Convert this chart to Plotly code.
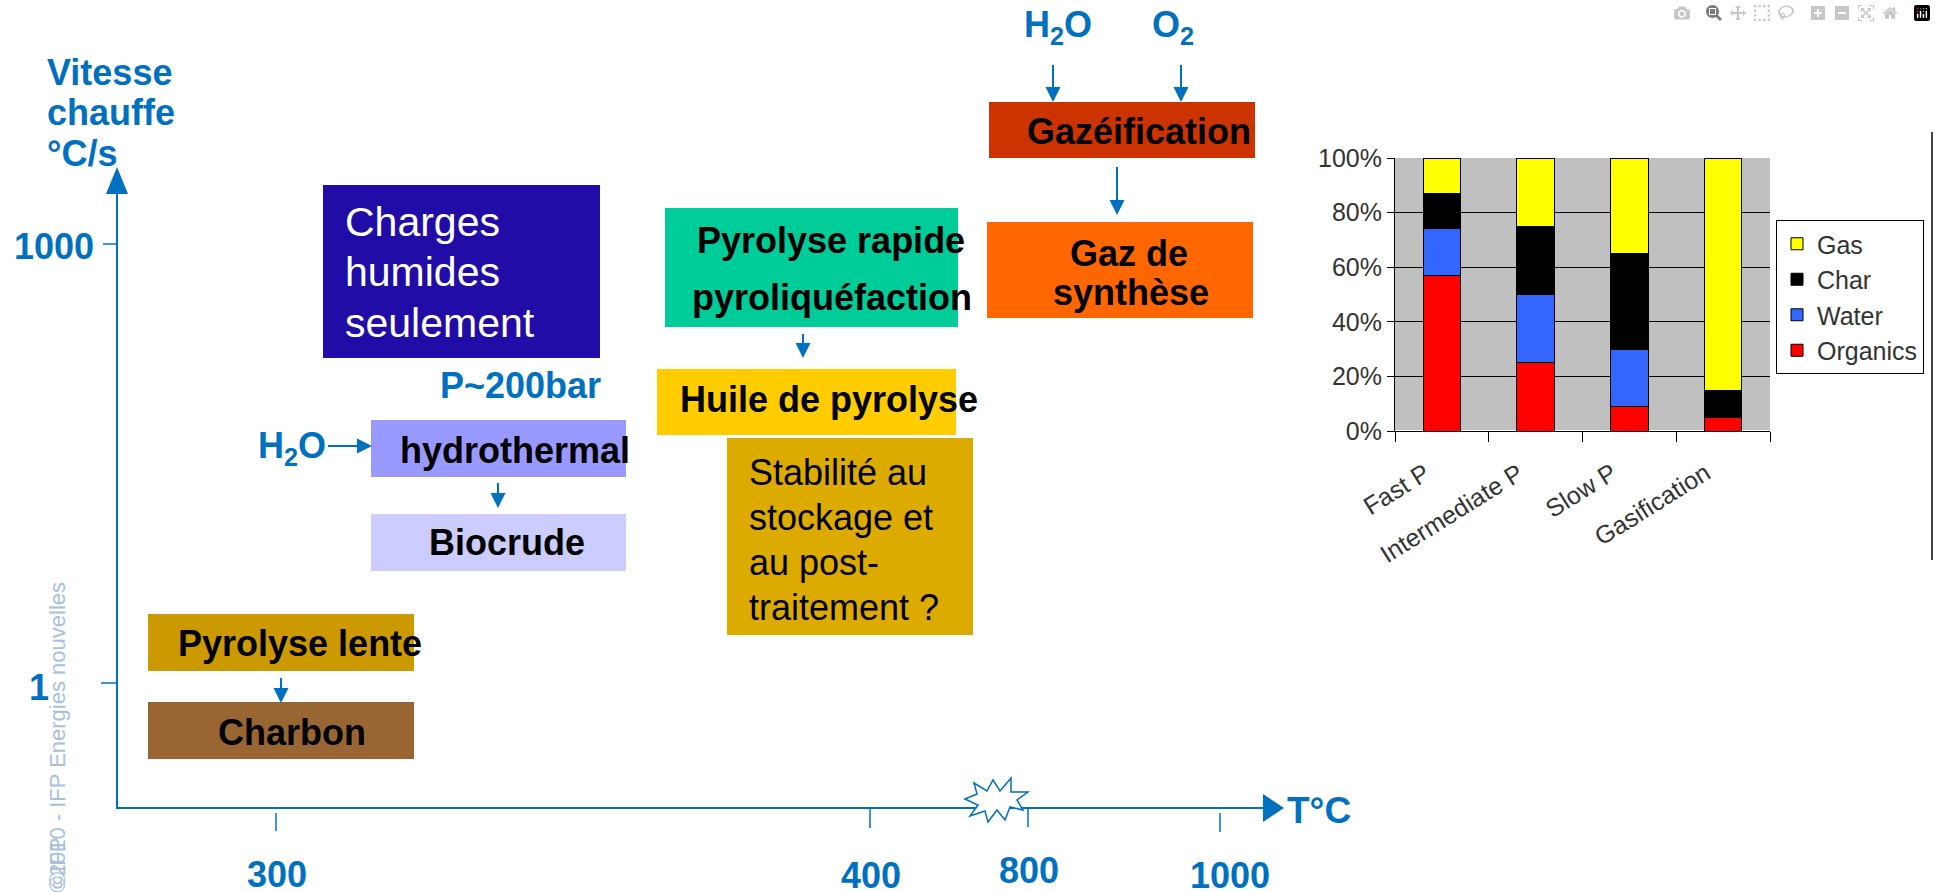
import plotly.graph_objects as go

W, H = 1936, 892
BLUE = "#0070C0"
FONT = "Liberation Sans, Arial, sans-serif"

# histogramme : répartition des produits (%)
procedes = ["Fast P", "Intermediate P", "Slow P", "Gasification"]
organics = [57, 25, 9, 5]
water = [17, 25, 21, 0]
char = [13, 25, 35, 10]
gas = [13, 25, 35, 85]

# axes du schéma
x_tick_labels = ["300", "400", "800", "1000"]
y_tick_labels = ["1", "1000"]


def px(x):
    return x / W


def py(y):
    return 1 - y / H


fig = go.Figure()

# — Histogramme empilé —
for name, vals, col in [("Organics", organics, "#FF0000"), ("Water", water, "#3366FF"),
                        ("Char", char, "#000000"), ("Gas", gas, "#FFFF00")]:
    fig.add_trace(go.Bar(
        x=procedes, y=vals, name=name, width=0.4,
        marker=dict(color=col, line=dict(color="black", width=1)),
    ))

# — Helpers schéma —
shapes = []
annots = []


def box(x0, y0, x1, y1, color):
    shapes.append(dict(type="rect", xref="paper", yref="paper",
                       x0=px(x0), x1=px(x1), y0=py(y1), y1=py(y0),
                       fillcolor=color, line=dict(width=0), layer="below"))


def seg(x0, y0, x1, y1, color=BLUE, width=2):
    shapes.append(dict(type="line", xref="paper", yref="paper",
                       x0=px(x0), y0=py(y0), x1=px(x1), y1=py(y1),
                       line=dict(color=color, width=width)))


def poly(pts, fill=BLUE, line_color=None, lw=0):
    path = "M " + " L ".join(f"{px(a):.5f},{py(b):.5f}" for a, b in pts) + " Z"
    shapes.append(dict(type="path", xref="paper", yref="paper", path=path,
                       fillcolor=fill, line=dict(color=line_color or fill, width=lw)))


def arrow(x0, y0, x1, y1, head=15, half=7.5, lw=2):
    dx, dy = x1 - x0, y1 - y0
    n = (dx * dx + dy * dy) ** 0.5
    ux, uy = dx / n, dy / n
    bx, by = x1 - ux * head, y1 - uy * head
    seg(x0, y0, bx, by, width=lw)
    poly([(x1, y1), (bx - uy * half, by + ux * half), (bx + uy * half, by - ux * half)])


def label(x, y, text, size=36, bold=True, color="black", xanchor="center", angle=0, yanchor="middle"):
    annots.append(dict(xref="paper", yref="paper", x=px(x), y=py(y), text=f"<b>{text}</b>" if bold else text,
                       showarrow=False, xanchor=xanchor, yanchor=yanchor, textangle=angle,
                       font=dict(family=FONT, size=size, color=color)))


# — Axes du schéma —
seg(117, 808, 117, 190)
poly([(117, 167), (106, 194), (128, 194)])
seg(116, 808, 1265, 808)
poly([(1284, 808), (1263, 794), (1263, 822)])
label(1285, 810, "T°C", size=37, color=BLUE, xanchor="left")
for t, yy, x0 in zip(y_tick_labels, [683, 244], [101, 103]):
    seg(x0, yy, 117, yy, width=1.5)
for t, yy, xr in zip(y_tick_labels, [687, 246], [51, 96]):
    label(xr, yy, t, color=BLUE, xanchor="right")
for t, xx, y0, y1, ly in zip(x_tick_labels, [276, 870, 1028, 1220], [813, 808, 808, 813],
                             [831, 828, 827, 832], [874, 875, 870, 875]):
    seg(xx, y0, xx, y1, width=1.5)
    label(xx + (10 if t == "1000" else 1), ly, t, color=BLUE)

# rupture d'échelle
star = [(-32, -3), (-20, -8), (-23, -19), (-10, -11), (-4, -22), (3, -11), (14, -24), (14, -10),
        (31, -10), (20, -2), (26, 8), (13, 5), (8, 18), (0, 8), (-9, 20), (-12, 9), (-27, 14), (-19, 3)]
poly([(997 + a, 802 + b) for a, b in star], fill="white", line_color=BLUE, lw=1.5)

label(45, 73, "Vitesse", color=BLUE, xanchor="left")
label(45, 112, "chauffe", color=BLUE, xanchor="left")
label(45, 153, "°C/s", color=BLUE, xanchor="left")

# — Boîtes —
box(323, 185, 600, 358, "#220CA8")
for t, yy in zip(["Charges", "humides", "seulement"], [222, 272, 323]):
    label(343, yy, t, size=41, bold=False, color="white", xanchor="left")

label(520, 385, "P~200bar", color=BLUE)
label(292, 448, "H<sub>2</sub>O", color=BLUE)
arrow(328, 446, 372, 446)
box(371, 420, 626, 477, "#9999FF")
label(515, 450, "hydrothermal")
arrow(498, 483, 498, 508)
box(371, 514, 626, 571, "#CCCCFF")
label(507, 542, "Biocrude")

box(148, 614, 414, 671, "#CC9900")
label(300, 643, "Pyrolyse lente")
arrow(281, 678, 281, 703)
box(148, 702, 414, 759, "#996633")
label(292, 732, "Charbon")

box(665, 208, 958, 327, "#00CC99")
label(831, 240, "Pyrolyse rapide")
label(832, 297, "pyroliquéfaction")
arrow(803, 334, 803, 358)
box(657, 369, 956, 435, "#FFCC00")
label(829, 400, "Huile de pyrolyse")
box(727, 438, 973, 635, "#DDAA00")
for t, yy in zip(["Stabilité au", "stockage et", "au post-", "traitement ?"], [472, 517, 562, 607]):
    label(747, yy, t, bold=False, xanchor="left")

label(1058, 27, "H<sub>2</sub>O", color=BLUE)
label(1173, 27, "O<sub>2</sub>", color=BLUE)
arrow(1053, 65, 1053, 102)
arrow(1181, 65, 1181, 102)
box(989, 102, 1255, 158, "#CC3300")
label(1139, 132, "Gazéification")
arrow(1117, 167, 1117, 215)
box(987, 222, 1253, 318, "#FF6600")
label(1129, 253, "Gaz de")
label(1131, 292, "synthèse")

# filigrane
label(57, 580, "©2010 - IFP Energies nouvelles", size=22, bold=False, color="#A8C0DA",
      angle=-90, yanchor="top")
label(57, 890, "©IFP", size=22, bold=False, color="#A8C0DA", angle=-90, yanchor="bottom")

# trait vertical à droite
seg(1932, 132, 1932, 560, color="#444444", width=2)

# étiquettes inclinées des procédés
for p in procedes:
    annots.append(dict(xref="x", yref="paper", x=p, y=py(455), xshift=-5, showarrow=False,
                       text=p, textangle=-32, xanchor="right", yanchor="top",
                       font=dict(family=FONT, size=25, color="#333333")))

fig.update_layout(
    width=W, height=H, autosize=False,
    margin=dict(l=0, r=0, t=0, b=0, pad=0, autoexpand=False),
    paper_bgcolor="white", plot_bgcolor="#C0C0C0",
    barmode="stack",
    font=dict(family=FONT, size=25, color="#333333"),
    shapes=shapes, annotations=annots,
    xaxis=dict(domain=[px(1395), px(1770)], type="category", range=[-0.5, 3.5],
               showline=True, linecolor="black", linewidth=1,
               ticks="outside", tickson="boundaries", ticklen=10, tickcolor="black", automargin=False,
               showticklabels=False, showgrid=False),
    yaxis=dict(domain=[py(431), py(158)], range=[0, 100], tickvals=[0, 20, 40, 60, 80, 100],
               ticktext=["0%", "20%", "40%", "60%", "80%", "100%"], showline=True, automargin=False,
               linecolor="black", gridcolor="black", gridwidth=1, ticks="outside", ticklen=7,
               tickcolor="black", tickfont=dict(size=25, color="#333333")),
    legend=dict(x=px(1776), y=py(220), xanchor="left", yanchor="top", traceorder="reversed",
                bordercolor="black", borderwidth=1, bgcolor="white",
                font=dict(size=25, color="#333333")),
    showlegend=True,
)

fig.write_html("out.html", post_script="document.body.style.margin='0';")
